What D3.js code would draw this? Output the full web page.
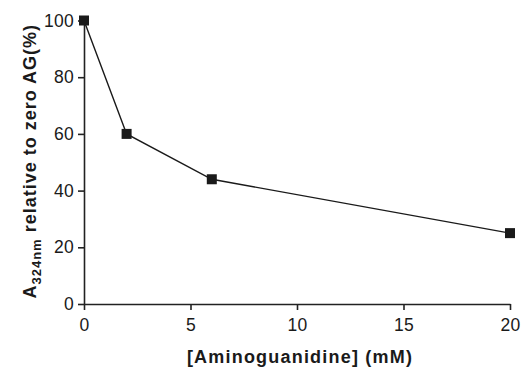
<!DOCTYPE html>
<html>
<head>
  <meta charset="utf-8">
  <script src="https://d3js.org/d3.v7.min.js"></script>
  <style>
    body { margin: 0; background: white; }
    text { font-family: "Liberation Sans", Arial, sans-serif; fill: #1a1a1a; }
  </style>
</head>
<body>
  <svg id="chart"></svg>
  <script>
    var width = 522;
    var height = 370;

    // data
    var concentrations = [0, 2, 6, 20];
    var relativeAbs = [100, 60, 44, 25];
    var xTicks = [0, 5, 10, 15, 20];
    var yTicks = [0, 20, 40, 60, 80, 100];

    var margin = { left: 84, right: 12, top: 20.5, bottom: 66 };

    var svg = d3.select("#chart").attr("width", width).attr("height", height);

    var x = d3.scaleLinear().domain([0, 20]).range([margin.left, width - margin.right]);
    var y = d3.scaleLinear().domain([0, 100]).range([height - margin.bottom, margin.top]);

    // axes
    svg.append("g")
      .attr("transform", `translate(0,${y(0)})`)
      .call(d3.axisBottom(x).tickValues(xTicks).tickSize(6).tickPadding(9).tickSizeOuter(0))
    svg.append("g")
      .attr("transform", `translate(${x(0)},0)`)
      .call(d3.axisLeft(y).tickValues(yTicks).tickSize(6).tickPadding(4).tickSizeOuter(0))

    svg.selectAll(".domain, .tick line").attr("stroke", "#222").attr("stroke-width", 1.6)
    svg.selectAll(".tick text").style("font-size", "17.5px").style("letter-spacing", "0.3px").attr("fill", "#1a1a1a")

    // line
    var pts = concentrations.map((c, i) => [c, relativeAbs[i]])
    svg.append("path")
      .datum(pts)
      .attr("fill", "none")
      .attr("stroke", "#1a1a1a")
      .attr("stroke-width", 1.4)
      .attr("d", d3.line().x(d => x(d[0])).y(d => y(d[1])))

    // square markers
    svg.selectAll("rect.pt")
      .data(pts)
      .enter().append("rect")
      .attr("class", "pt")
      .attr("x", d => x(d[0]) - 5)
      .attr("y", d => y(d[1]) - 5)
      .attr("width", 10)
      .attr("height", 10)
      .attr("fill", "#1a1a1a")

    // axis titles
    svg.append("text")
      .attr("x", (x(0) + x(20)) / 2 + 3)
      .attr("y", 363)
      .attr("text-anchor", "middle")
      .style("font-size", "18px")
      .style("font-weight", "bold")
      .style("letter-spacing", "1.2px")
      .text("[Aminoguanidine] (mM)")

    var yl = svg.append("text")
      .attr("transform", `translate(36,${(y(0) + y(100)) / 2 - 1}) rotate(-90)`)
      .attr("text-anchor", "middle")
      .style("font-size", "18px")
      .style("font-weight", "bold")
      .style("letter-spacing", "1px")
    yl.append("tspan").text("A")
    yl.append("tspan").attr("dy", 5).style("font-size", "13px").text("324nm")
    yl.append("tspan").attr("dy", -5).text(" relative to zero AG(%)")
  </script>
</body>
</html>
